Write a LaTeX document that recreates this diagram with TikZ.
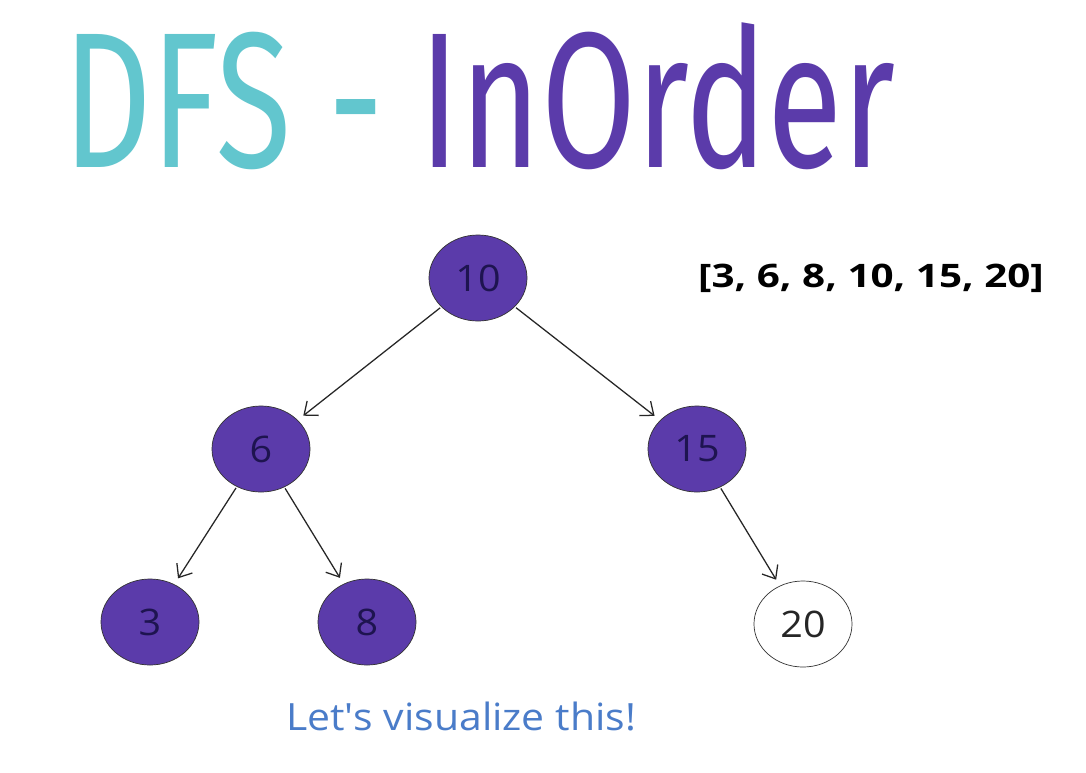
\documentclass[tikz,border=0pt]{standalone}
\usepackage{fontspec}
\usepackage{xcolor}
\usetikzlibrary{shapes.geometric}
\usetikzlibrary{arrows.meta}
\setmainfont{Open Sans}
\newfontfamily\titlefont{Fira Sans}
\definecolor{dfsteal}{HTML}{62C6CE}
\definecolor{dfspurple}{HTML}{5B3BAA}
\definecolor{nodetext}{HTML}{1E1450}
\definecolor{noteblue}{HTML}{4A7CC9}

\begin{document}
\begin{tikzpicture}[x=0.025cm,y=-0.025cm,
    visited/.style={ellipse,draw=black!80,line width=0.5pt,fill=dfspurple,
      minimum width=2.45cm,minimum height=2.15cm,inner sep=0pt,
      text=nodetext,font=\fontsize{26}{30}\selectfont},
    fresh/.style={visited,fill=white,text=black!85},
    child/.style={draw=black!85,line width=0.9pt,->,shorten >=5pt,shorten <=1pt},
    >={Straight Barb[length=2.8mm,width=4.6mm]}]
  \useasboundingbox (0,0) rectangle (1086,772);
  \fill[white] (0,0) rectangle (1086,772);
  \node (title) [anchor=base west,inner sep=0pt] at (63,167)
    {\resizebox{20.8cm}{3.62cm}{\titlefont\textcolor{dfsteal}{DFS - }\textcolor{dfspurple}{InOrder}}};
  \node (n10) [visited] at (478,278) {\scalebox{1.08}[1]{10}};
  \node (n6)  [visited] at (261,449) {\scalebox{1.08}[1]{6}};
  \node (n15) [visited] at (697,449) {\scalebox{1.08}[1]{15}};
  \node (n3)  [visited] at (150,622) {\scalebox{1.08}[1]{3}};
  \node (n8)  [visited] at (367,622) {\scalebox{1.08}[1]{8}};
  \node (n20) [fresh]   at (803,624) {\scalebox{1.08}[1]{20}};
  \node (order) at (871,278) {\fontsize{23}{27}\selectfont\bfseries\scalebox{1.25}[1]{[3, 6, 8, 10, 15, 20]}};
  \node (note) [text=noteblue] at (461,716) {\fontsize{26.7}{31}\selectfont\scalebox{1.09}[1]{Let\textquotesingle s visualize this!}};
  \draw[child] (n10) -- (n6);
  \draw[child] (n10) -- (n15);
  \draw[child] (n6) -- (n3);
  \draw[child] (n6) -- (n8);
  \draw[child] (n15) -- (n20);
\end{tikzpicture}
\end{document}
